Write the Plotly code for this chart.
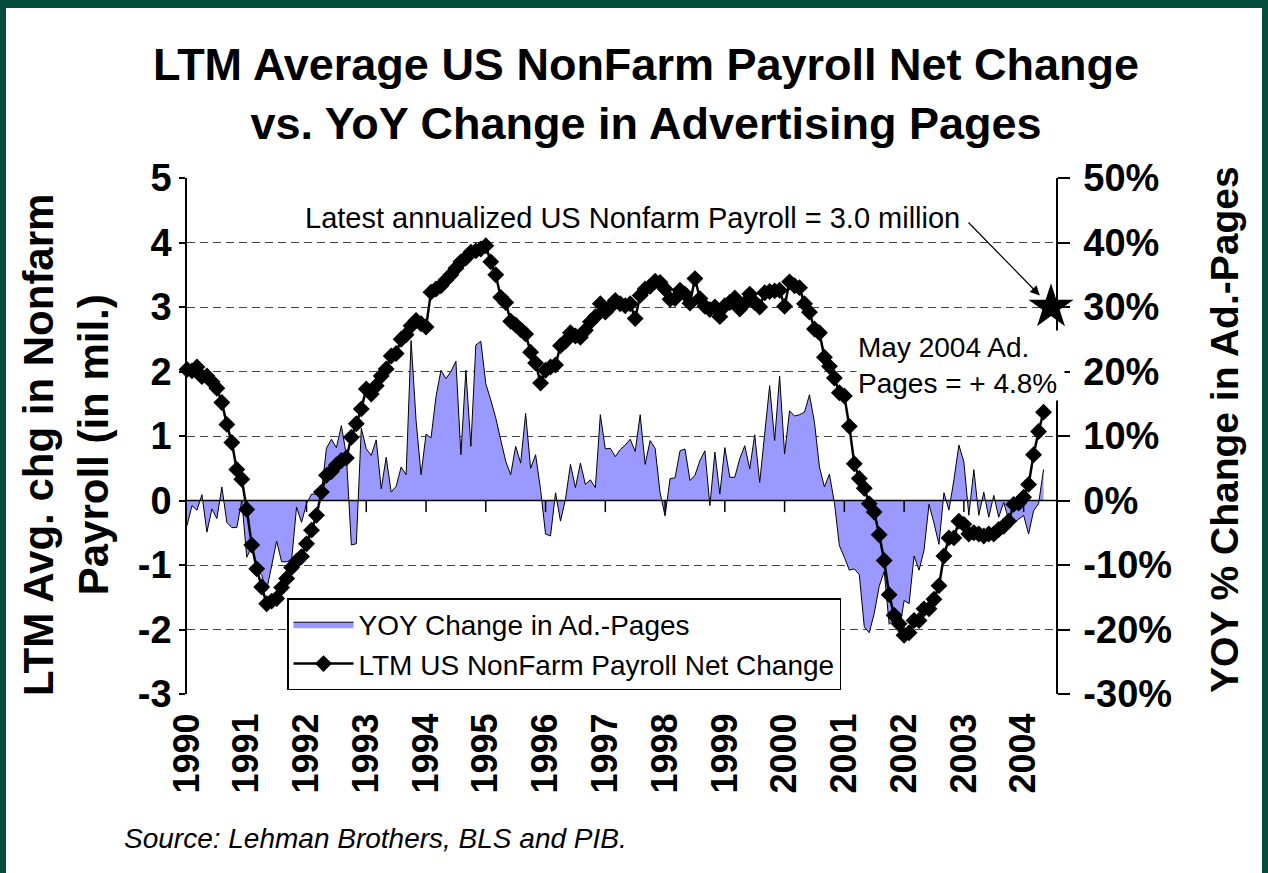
import plotly.graph_objects as go

# ---------------- data ----------------
years = [str(y) for y in range(1990, 2005)]
left_ticks = [-3, -2, -1, 0, 1, 2, 3, 4, 5]
right_ticks = [-30, -20, -10, 0, 10, 20, 30, 40, 50]

# LTM average US nonfarm payroll net change (millions), monthly Jan-1990 .. May-2004
payroll = [
    2.03, 2.01, 2.07, 1.92, 1.93, 1.84, 1.74, 1.52, 1.18, 0.90,
    0.48, 0.33, -0.14, -0.69, -1.06, -1.34, -1.60, -1.56, -1.52, -1.35,
    -1.21, -1.04, -0.94, -0.87, -0.67, -0.46, -0.23, 0.13, 0.39, 0.45,
    0.55, 0.62, 0.66, 0.98, 1.19, 1.42, 1.73, 1.65, 1.78, 1.93,
    2.04, 2.24, 2.28, 2.50, 2.57, 2.71, 2.79, 2.74, 2.69, 3.23,
    3.28, 3.33, 3.42, 3.50, 3.60, 3.70, 3.76, 3.85, 3.87, 3.90,
    3.95, 3.70, 3.50, 3.15, 3.07, 2.78, 2.72, 2.65, 2.58, 2.30,
    2.13, 1.82, 2.02, 2.07, 2.10, 2.40, 2.47, 2.60, 2.55, 2.53,
    2.64, 2.77, 2.85, 3.05, 2.92, 3.00, 3.10, 3.05, 3.02, 3.05,
    2.82, 3.18, 3.28, 3.32, 3.40, 3.38, 3.28, 3.12, 3.13, 3.26,
    3.20, 3.06, 3.44, 3.13, 3.01, 2.96, 3.00, 2.85, 3.02, 3.07,
    3.14, 2.97, 3.06, 3.20, 3.07, 3.00, 3.22, 3.24, 3.25, 3.26,
    3.01, 3.39, 3.33, 3.30, 3.05, 2.92, 2.66, 2.60, 2.22, 2.08,
    1.90, 1.67, 1.62, 1.15, 0.57, 0.34, 0.19, -0.05, -0.18, -0.53,
    -0.93, -1.46, -1.78, -1.91, -2.09, -2.05, -1.86, -1.86, -1.68, -1.68,
    -1.53, -1.32, -0.86, -0.58, -0.58, -0.32, -0.37, -0.52, -0.50, -0.52,
    -0.55, -0.52, -0.52, -0.45, -0.40, -0.32, -0.06, -0.04, 0.05, 0.25,
    0.71, 1.07, 1.37,
]

# YoY % change in advertising pages, monthly Jan-1990 .. May-2004
ad_pages = [
    -3.9, -0.8, -1.5, 0.9, -4.9, -1.3, -2.8, 2.1, -3.4, -4.2,
    -4.2, 0.0, -8.8, -7.2, -10.6, -11.6, -13.9, -10.1, -6.3, -9.5,
    -9.5, -9.3, -1.0, -3.4, -0.5, 1.0, 1.0, 1.3, 8.1, 9.5,
    8.2, 11.6, 7.0, -6.9, -6.7, 11.2, 8.0, 7.0, 9.4, 1.8,
    6.7, 1.3, 2.2, 5.2, 4.0, 24.8, 12.4, 4.0, 10.3, 9.7,
    16.1, 20.2, 18.9, 20.0, 21.6, 7.1, 20.2, 8.4, 24.1, 24.7,
    18.1, 15.6, 12.8, 9.4, 6.1, 4.0, 8.4, 5.8, 13.5, 5.0,
    7.1, 1.7, -5.2, -5.5, 1.2, -3.2, 0.2, 5.6, 2.0, 5.8,
    2.5, 3.2, 2.0, 13.3, 8.0, 8.1, 6.8, 7.9, 8.6, 9.5,
    7.6, 13.3, 5.6, 9.3, 8.1, 1.2, -2.4, 3.4, 3.5, 7.7,
    8.0, 3.1, 3.9, 6.2, 7.7, -0.8, 7.5, 1.0, 8.2, 3.6,
    3.6, 6.5, 8.5, 4.9, 10.2, 2.8, 10.0, 17.8, 9.3, 19.3,
    7.2, 13.9, 13.1, 13.3, 13.7, 16.4, 12.1, 5.2, 2.1, 4.1,
    -0.3, -7.0, -8.8, -10.8, -10.6, -11.5, -19.6, -20.5, -17.5, -13.3,
    -11.0, -19.2, -18.4, -20.5, -15.5, -16.0, -8.6, -10.8, -7.7, -0.6,
    -3.5, -6.8, 1.2, -1.5, 3.2, 8.6, 6.0, -2.3, 4.8, -2.3,
    1.3, -2.6, 0.8, -2.6, -0.3, -3.0, -3.5, -2.9, -2.3, -5.2,
    -1.6, -0.5, 4.8,
]

months = list(range(len(payroll)))
latest_payroll = 3.0      # annualized latest payroll (millions)
latest_pos = 173.5        # position of the star on the month axis

# ---------------- layout helpers ----------------
FONT = "Liberation Sans, Arial, sans-serif"
W, H = 1268, 873
PL, PR, PT, PB = 187, 1056, 178, 694     # plot-area pixel box
PW, PH = PR - PL, PB - PT


def fx(px):
    return (px - PL) / PW


def fy(py):
    return (PB - py) / PH


GREEN = "#064C3C"

fig = go.Figure()

fig.add_trace(go.Scatter(
    x=months, y=ad_pages, yaxis="y", mode="lines",
    fill="tozeroy", fillcolor="#9999FF",
    line=dict(color="black", width=1),
    name="YOY Change in Ad.-Pages",
))
fig.add_trace(go.Scatter(
    x=months, y=payroll, yaxis="y2", mode="lines+markers",
    line=dict(color="black", width=2.5),
    marker=dict(symbol="diamond", size=13, color="black"),
    name="LTM US NonFarm Payroll Net Change",
    cliponaxis=False,
))
fig.add_trace(go.Scatter(
    x=[latest_pos], y=[latest_payroll], yaxis="y2", mode="markers",
    marker=dict(symbol="star", size=34, color="black"),
    showlegend=False, cliponaxis=False,
))

shapes = []
# zero baseline
shapes.append(dict(type="line", xref="paper", yref="y2", x0=0, x1=1, y0=0, y1=0,
                   line=dict(color="black", width=1.5), layer="above"))
# category tick marks on the zero line
for k in range(1, len(years)):
    shapes.append(dict(type="line", xref="x", yref="y2", x0=12 * k, x1=12 * k,
                       y0=0, y1=-0.18, line=dict(color="black", width=1.5),
                       layer="above"))
# dark green frame
shapes.append(dict(type="rect", xref="paper", yref="paper", x0=fx(0), x1=fx(W),
                   y0=fy(8), y1=fy(0), fillcolor=GREEN, line=dict(width=0)))
shapes.append(dict(type="rect", xref="paper", yref="paper", x0=fx(0), x1=fx(6),
                   y0=fy(H), y1=fy(0), fillcolor=GREEN, line=dict(width=0)))
shapes.append(dict(type="rect", xref="paper", yref="paper", x0=fx(W - 6), x1=fx(W),
                   y0=fy(H), y1=fy(0), fillcolor=GREEN, line=dict(width=0)))

annotations = [
    dict(text="Latest annualized US Nonfarm Payroll = %.1f million" % latest_payroll,
         xref="paper", yref="paper", x=fx(632), y=fy(218),
         xanchor="center", yanchor="middle", showarrow=False,
         font=dict(family=FONT, size=29, color="black")),
    dict(text="", xref="x", yref="y2", x=latest_pos, y=latest_payroll,
         ax=-84, ay=-86, showarrow=True, arrowhead=2, arrowsize=1.6,
         arrowwidth=1.2, arrowcolor="black", standoff=16),
    dict(text="May 2004 Ad.<br>Pages = + %.1f%%" % ad_pages[-1],
         xref="paper", yref="paper", x=fx(856), y=fy(365), xanchor="left",
         yanchor="middle", align="left", width=205, bgcolor="white",
         showarrow=False, font=dict(family=FONT, size=28, color="black")),
    dict(text="LTM Avg. chg in Nonfarm<br>Payroll (in mil.)",
         xref="paper", yref="paper", x=fx(66), y=fy(445), textangle=-90,
         xanchor="center", yanchor="middle",
         showarrow=False, font=dict(family=FONT, size=42, color="black", weight="bold")),
    dict(text="YOY % Change in Ad.-Pages",
         xref="paper", yref="paper", x=fx(1224), y=fy(430), textangle=-90,
         xanchor="center", yanchor="middle",
         showarrow=False, font=dict(family=FONT, size=39, color="black", weight="bold")),
    dict(text="<i>Source: Lehman Brothers, BLS and PIB.</i>",
         xref="paper", yref="paper", x=fx(122), y=fy(838), xanchor="left",
         yanchor="middle", showarrow=False,
         font=dict(family=FONT, size=28, color="black")),
]

tickfont = dict(family=FONT, size=38, color="black", weight="bold")

fig.update_layout(
    width=W, height=H,
    margin=dict(l=PL, r=W - PR, t=PT, b=H - PB, pad=0),
    paper_bgcolor="white", plot_bgcolor="white",
    title=dict(text="LTM Average US NonFarm Payroll Net Change<br>vs. YoY Change in Advertising Pages",
               xref="container", yref="container", x=646 / W, y=1 - 80 / H,
               xanchor="center", yanchor="top",
               font=dict(family=FONT, size=45, color="black", weight="bold")),
    xaxis=dict(range=[0, 174.5], tickmode="array",
               tickvals=[12 * k for k in range(len(years))], ticktext=years,
               tickangle=-90, ticks="outside", ticklen=4,
               tickcolor="rgba(0,0,0,0)", showgrid=False, zeroline=False,
               showline=False,
               tickfont=dict(family=FONT, size=36, color="black", weight="bold")),
    yaxis=dict(range=[-30, 50], tickmode="array", tickvals=right_ticks,
               ticktext=["%d%%" % v for v in right_ticks], side="right",
               showline=True, linecolor="black", linewidth=1.5,
               ticks="outside", ticklen=12, tickwidth=1.5, tickcolor="black",
               showgrid=True, gridcolor="#444444", griddash="8px,5px",
               gridwidth=1, zeroline=False, tickfont=tickfont,
               ticklabelstandoff=6),
    yaxis2=dict(range=[-3, 5], tickmode="array", tickvals=left_ticks,
                ticktext=["%d" % v for v in left_ticks],
                overlaying="y", side="left",
                showline=True, linecolor="black", linewidth=1.5,
                ticks="outside", ticklen=6, tickwidth=1.5, tickcolor="black",
                showgrid=False, zeroline=False, tickfont=tickfont),
    legend=dict(x=fx(287), y=fy(598), xanchor="left", yanchor="top",
                bgcolor="white", bordercolor="black", borderwidth=1.5,
                font=dict(family=FONT, size=28, color="black"),
                itemwidth=60, traceorder="normal"),
    showlegend=True,
    shapes=shapes,
    annotations=annotations,
)

fig.write_html("out.html", config={"displayModeBar": False},
               post_script="document.body.style.margin='0px';")
